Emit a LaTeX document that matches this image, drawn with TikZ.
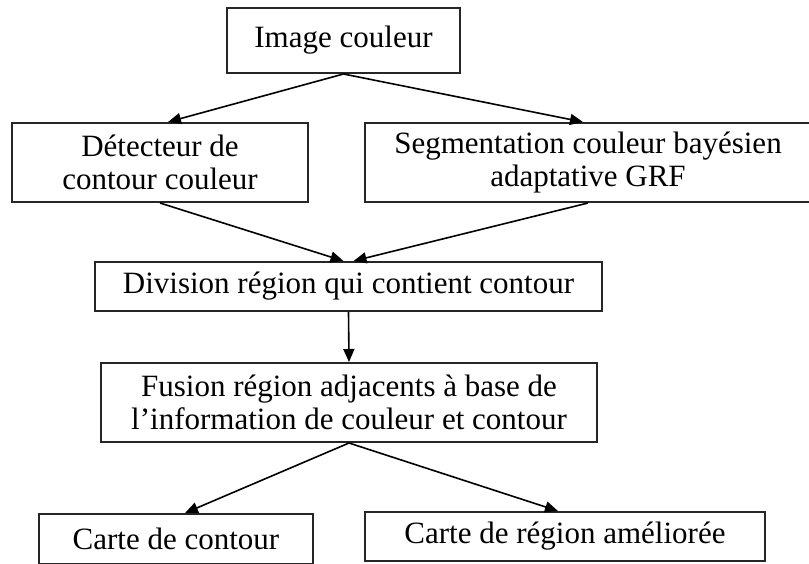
\documentclass[tikz,border=0pt]{standalone}
\usepackage{fontspec}
\setmainfont{Liberation Serif}
\usetikzlibrary{arrows.meta}
\begin{document}
\begin{tikzpicture}[x=0.5pt,y=-0.5pt,
  box/.style={draw=black!85, line width=1pt, inner sep=0pt, align=center,
    font=\fontsize{15.5}{16.5}\selectfont},
  arr/.style={line width=0.8pt, -{Triangle[length=6.5pt,width=5.5pt]}}]
\useasboundingbox (0,0) rectangle (809,563);
\node[box, minimum width=116.5pt, minimum height=32.5pt] (b1) at (343.5,40.5) {\raisebox{3pt}{Image couleur}};
\node[box, minimum width=148pt, minimum height=39.5pt] (b2) at (160,162.5) {Détecteur de\\contour couleur};
\node[box, minimum width=223pt, minimum height=39.5pt] (b3) at (588,162.5) {Segmentation couleur bayésien\\adaptative GRF};
\node[box, minimum width=253.5pt, minimum height=24.5pt] (b4) at (348.5,286.5) {Division région qui contient contour};
\node[box, minimum width=248pt, minimum height=39.5pt] (b5) at (349,402.5) {Fusion région adjacents à base de\\l’information de couleur et contour};
\node[box, minimum width=137pt, minimum height=25pt] (b6) at (176,539) {Carte de contour};
\node[box, minimum width=200pt, minimum height=24.5pt] (b7) at (565,536.5) {Carte de région améliorée};
\draw[arr] (b1.south) -- ([xshift=4pt]b2.north);
\draw[arr] (b1.south) -- ([xshift=-2.5pt]b3.north);
\draw[arr] (b2.south) -- ([xshift=-2.5pt]b4.north);
\draw[arr] (b3.south) -- ([xshift=2.5pt]b4.north);
\draw[arr] (b4.south) -- (b5.north);
\draw[arr] (b5.south) -- ([xshift=4.5pt]b6.north);
\draw[arr] (b5.south) -- ([xshift=-3.5pt]b7.north);
\end{tikzpicture}
\end{document}
